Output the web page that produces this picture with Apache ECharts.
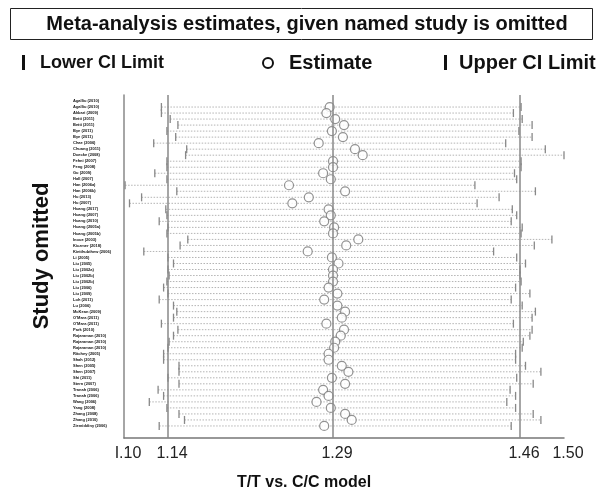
<!DOCTYPE html>
<html>
<head>
<meta charset="utf-8">
<script src="https://cdn.jsdelivr.net/npm/echarts@6/dist/echarts.min.js"></script>
<style>
  html, body { margin: 0; padding: 0; background: #fff; }
  #main { width: 603px; height: 493px; }
</style>
</head>
<body>
<div id="main"></div>
<script>
// study names, top to bottom
const studies = [
  "Agalliu (2010)", "Agalliu (2010)", "Akbari (2009)", "Betti (2011)", "Betti (2011)",
  "Bye (2011)", "Bye (2011)", "Chae (2006)", "Chuang (2011)", "Doecke (2008)",
  "Fehni (2007)", "Feng (2008)", "Gu (2009)", "Hall (2007)", "Han (2006a)",
  "Han (2006b)", "Hu (2013)", "Hu (2007)", "Huang (2017)", "Huang (2007)",
  "Huang (2010)", "Huang (2005a)", "Huang (2005b)", "Inoue (2003)", "Kiczmer (2018)",
  "Kietthubthew (2006)", "Li (2005)", "Liu (2005)", "Liu (2002a)", "Liu (2002b)",
  "Liu (2002b)", "Liu (2006)", "Liu (2009)", "Loh (2011)", "Lu (2006)",
  "McKean (2009)", "O'Mara (2011)", "O'Mara (2011)", "Park (2010)", "Rajaraman (2010)",
  "Rajaraman (2010)", "Rajaraman (2010)", "Ritchey (2005)", "Shah (2012)", "Shen (2005)",
  "Shen (2007)", "Shi (2011)", "Stern (2007)", "Tranah (2006)", "Tranah (2006)",
  "Wang (2006)", "Yang (2008)", "Zhang (2008)", "Zhang (2010)", "Ziemiddiny (2006)"
];

// pooled estimate with each study left out (first row has no mark in the picture)
const estimate = [
  null, 1.287, 1.284, 1.292, 1.300, 1.289, 1.299, 1.277, 1.310, 1.317,
  1.290, 1.290, 1.281, 1.288, 1.250, 1.301, 1.268, 1.253, 1.286, 1.288,
  1.282, 1.291, 1.290, 1.313, 1.302, 1.267, 1.289, 1.295, 1.290, 1.290,
  1.290, 1.286, 1.294, 1.282, 1.294, 1.301, 1.298, 1.284, 1.300, 1.297,
  1.292, 1.291, 1.286, 1.286, 1.298, 1.304, 1.289, 1.301, 1.281, 1.286,
  1.275, 1.288, 1.301, 1.307, 1.282
];

const lowerCI = [
  null, 1.134, 1.134, 1.142, 1.149, 1.139, 1.147, 1.127, 1.157, 1.156,
  1.139, 1.139, 1.128, 1.139, 1.101, 1.148, 1.116, 1.105, 1.138, 1.139,
  1.132, 1.140, 1.139, 1.158, 1.151, 1.118, 1.140, 1.145, 1.140, 1.141,
  1.139, 1.136, 1.140, 1.132, 1.145, 1.148, 1.145, 1.134, 1.149, 1.145,
  1.141, 1.140, 1.136, 1.136, 1.150, 1.150, 1.140, 1.150, 1.131, 1.136,
  1.123, 1.139, 1.150, 1.155, 1.132
];

const upperCI = [
  null, 1.461, 1.454, 1.462, 1.471, 1.459, 1.471, 1.447, 1.483, 1.500,
  1.461, 1.461, 1.455, 1.457, 1.419, 1.474, 1.441, 1.421, 1.453, 1.457,
  1.452, 1.462, 1.461, 1.489, 1.473, 1.436, 1.457, 1.465, 1.460, 1.460,
  1.461, 1.456, 1.469, 1.452, 1.462, 1.474, 1.471, 1.454, 1.471, 1.469,
  1.463, 1.462, 1.456, 1.456, 1.465, 1.479, 1.457, 1.472, 1.451, 1.456,
  1.448, 1.456, 1.472, 1.479, 1.452
];

// x axis ticks and the overall estimate / CI lines
const tickValues = [1.10, 1.14, 1.29, 1.46, 1.50];
const tickLabels = ["I.10", "1.14", "1.29", "1.46", "1.50"];
const refLines = [1.14, 1.29, 1.46];

const ciData = [];
const estData = [];
studies.forEach((s, i) => {
  if (lowerCI[i] != null) ciData.push([i, lowerCI[i], upperCI[i]]);
  if (estimate[i] != null) estData.push([estimate[i], i]);
});

const chart = echarts.init(document.getElementById("main"));

const option = {
  animation: false,
  backgroundColor: "#fff",
  textStyle: { fontFamily: "Liberation Sans, Arial, sans-serif" },
  grid: { left: 124, right: 39, top: 95, bottom: 55 },
  graphic: [
    // title box
    {
      type: "rect", left: 10, top: 8,
      shape: { width: 582, height: 31 },
      style: { fill: "#fff", stroke: "#222", lineWidth: 1 }
    },
    {
      type: "text", x: 307, y: 24,
      style: { text: "Meta-analysis estimates, given named study is omitted", fill: "#111",
        font: "bold 20px Liberation Sans, Arial", align: "center", verticalAlign: "middle" }
    },
    // legend
    { type: "rect", shape: { x: 22, y: 55, width: 3, height: 15 }, style: { fill: "#111" } },
    {
      type: "text", x: 40, y: 63,
      style: { text: "Lower CI Limit", fill: "#111", font: "bold 18px Liberation Sans, Arial", verticalAlign: "middle" }
    },
    { type: "circle", shape: { cx: 268, cy: 63, r: 5 }, style: { fill: "#fff", stroke: "#111", lineWidth: 2 } },
    {
      type: "text", x: 289, y: 63,
      style: { text: "Estimate", fill: "#111", font: "bold 20px Liberation Sans, Arial", verticalAlign: "middle" }
    },
    { type: "rect", shape: { x: 444, y: 55, width: 3, height: 15 }, style: { fill: "#111" } },
    {
      type: "text", x: 459, y: 63,
      style: { text: "Upper CI Limit", fill: "#111", font: "bold 20px Liberation Sans, Arial", verticalAlign: "middle" }
    },
    // axis titles
    {
      type: "text", x: 42, y: 256, rotation: Math.PI / 2,
      style: { text: "Study omitted", fill: "#111", font: "bold 22px Liberation Sans, Arial",
        align: "center", verticalAlign: "middle" }
    },
    {
      type: "text", x: 304, y: 483,
      style: { text: "T/T vs. C/C model", fill: "#111", font: "bold 16px Liberation Sans, Arial",
        align: "center", verticalAlign: "middle" }
    }
  ],
  xAxis: {
    type: "value",
    min: 1.10,
    max: 1.50,
    axisLine: { show: true, onZero: false, lineStyle: { color: "#777", width: 1.5 } },
    axisTick: { show: false },
    splitLine: { show: false },
    axisLabel: {
      customValues: tickValues,
      formatter: (v) => tickLabels[tickValues.findIndex((t) => Math.abs(t - v) < 1e-6)] || "",
      fontSize: 16,
      color: "#222",
      margin: 8,
      padding: [0, 0, 0, 8]
    }
  },
  yAxis: {
    type: "value",
    inverse: true,
    min: -1,
    max: 56,
    interval: 1,
    axisLine: { show: true, onZero: false, lineStyle: { color: "#888", width: 1.5 } },
    axisTick: { show: false },
    splitLine: { show: false },
    axisLabel: {
      formatter: (v) => studies[v] || "",
      fontSize: 4,
      fontWeight: "bold",
      color: "#111",
      align: "left",
      margin: 51
    }
  },
  series: [
    {
      type: "custom",
      name: "CI",
      data: ciData,
      encode: { x: [1, 2], y: 0 },
      z: 2,
      renderItem: (params, api) => {
        const idx = api.value(0);
        const p1 = api.coord([api.value(1), idx]);
        const p2 = api.coord([api.value(2), idx]);
        return {
          type: "group",
          children: [
            {
              type: "line",
              shape: { x1: p1[0], y1: p1[1], x2: p2[0], y2: p2[1] },
              style: { stroke: "#b4b4b4", lineWidth: 1, lineDash: [1.5, 1.5] }
            },
            {
              type: "line",
              shape: { x1: p1[0], y1: p1[1] - 4, x2: p1[0], y2: p1[1] + 4 },
              style: { stroke: "#888", lineWidth: 1.3 }
            },
            {
              type: "line",
              shape: { x1: p2[0], y1: p2[1] - 4, x2: p2[0], y2: p2[1] + 4 },
              style: { stroke: "#888", lineWidth: 1.3 }
            }
          ]
        };
      },
      markLine: {
        silent: true,
        symbol: "none",
        label: { show: false },
        lineStyle: { color: "#888", type: "solid", width: 1.5 },
        data: refLines.map((v) => ({ xAxis: v }))
      }
    },
    {
      type: "scatter",
      name: "Estimate",
      data: estData,
      symbol: "circle",
      symbolSize: 9,
      z: 3,
      itemStyle: { color: "#fff", borderColor: "#777", borderWidth: 1.2 }
    }
  ]
};

option && chart.setOption(option);
</script>
</body>
</html>
